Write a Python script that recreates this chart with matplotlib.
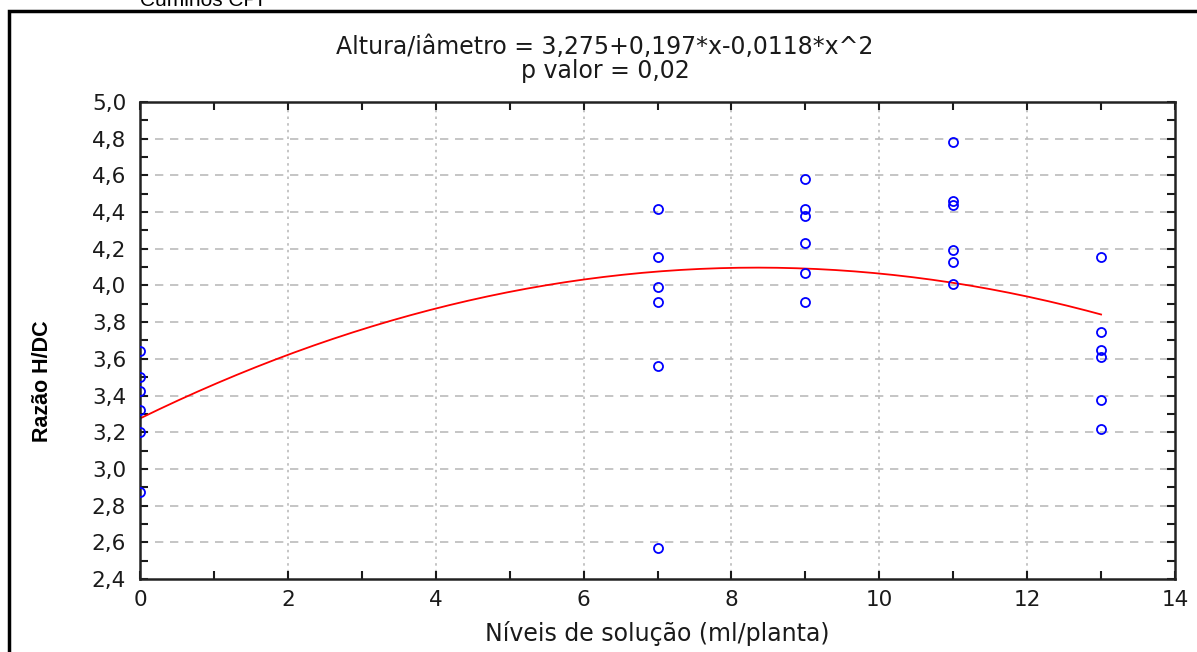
import matplotlib
matplotlib.use("Agg")
import matplotlib.pyplot as plt
import numpy as np
from matplotlib.ticker import MultipleLocator

# data
x0 = [0, 0, 0, 0, 0, 0]
y0 = [3.645, 3.50, 3.427, 3.323, 3.20, 2.873]
x7 = [7, 7, 7, 7, 7, 7]
y7 = [4.417, 4.153, 3.99, 3.908, 3.563, 2.568]
x9 = [9, 9, 9, 9, 9, 9]
y9 = [4.58, 4.417, 4.377, 4.232, 4.068, 3.908]
x11 = [11, 11, 11, 11, 11, 11]
y11 = [4.784, 4.462, 4.44, 4.195, 4.13, 4.008]
x13 = [13, 13, 13, 13, 13, 13]
y13 = [4.153, 3.745, 3.65, 3.61, 3.378, 3.218]

# fitted quadratic from the chart header
coef = [3.275, 0.197, -0.0118]

xs = np.array(x0 + x7 + x9 + x11 + x13)
ys = np.array(y0 + y7 + y9 + y11 + y13)

plt.rcParams['font.family'] = ['DejaVu Sans']

fig = plt.figure(figsize=(11.97, 6.52), dpi=100)
ax = fig.add_axes([140/1197, 73/652, 1035/1197, 477/652])

# grid
for gx in np.arange(2, 14, 2):
    ax.axvline(gx, color='#bbbbbb', lw=1.2, ls=(0, (1.5, 2.5)), zorder=0)
for gy in np.arange(2.6, 5.0, 0.2):
    ax.axhline(gy, color='#bbbbbb', lw=1.2, ls=(0, (5, 4)), zorder=0)

xf = np.linspace(0, 13, 200)
yf = coef[0] + coef[1]*xf + coef[2]*xf**2
ax.plot(xf, yf, color='red', lw=1.3, zorder=2)

ax.plot(xs, ys, ls='none', marker='o', ms=6.5, mfc='none', mec='blue', mew=1.3, zorder=3)

ax.set_xlim(0, 14)
ax.set_ylim(2.4, 5.0)
ax.xaxis.set_major_locator(MultipleLocator(2))
ax.xaxis.set_minor_locator(MultipleLocator(1))
ax.yaxis.set_major_locator(MultipleLocator(0.2))
ax.yaxis.set_minor_locator(MultipleLocator(0.1))
ax.yaxis.set_major_formatter(plt.FuncFormatter(lambda v, p: f"{v:.1f}".replace('.', ',')))
ax.tick_params(which='both', direction='in', top=True, right=True, width=1.5, length=6,
               labelsize=15.5, colors='#1a1a1a')
ax.tick_params(axis='x', pad=8)
ax.tick_params(axis='y', pad=10)
for s in ax.spines.values():
    s.set_linewidth(1.8)
    s.set_color('#222222')

ax.set_xlabel("Níveis de solução (ml/planta)", fontsize=17, labelpad=8, color='#1a1a1a')
ax.set_ylabel("Razão H/DC", fontsize=15.5, fontweight='bold',
              family=['Liberation Sans'])
ax.yaxis.set_label_coords(-0.084, 0.415)

fig.text(605/1197, 1 - 47/652, "Altura/iâmetro = 3,275+0,197*x-0,0118*x^2",
         ha='center', va='center', fontsize=17, color='#1a1a1a')
fig.text(605/1197, 1 - 71/652, "p valor = 0,02", ha='center', va='center',
         fontsize=17, color='#1a1a1a')

# cut-off text above the frame
fig.text(140/1197, 1 - 6/652, "Cuminos CPI", ha='left', va='baseline', fontsize=15,
         family='Liberation Sans')

# outer frame
frame = plt.Rectangle((9/1197, -0.05), 1.1, 1 - 11/652 + 0.05, transform=fig.transFigure,
                      fill=False, ec='black', lw=2.5, clip_on=False)
fig.patches.append(frame)

fig.savefig("out.png", dpi=100)
